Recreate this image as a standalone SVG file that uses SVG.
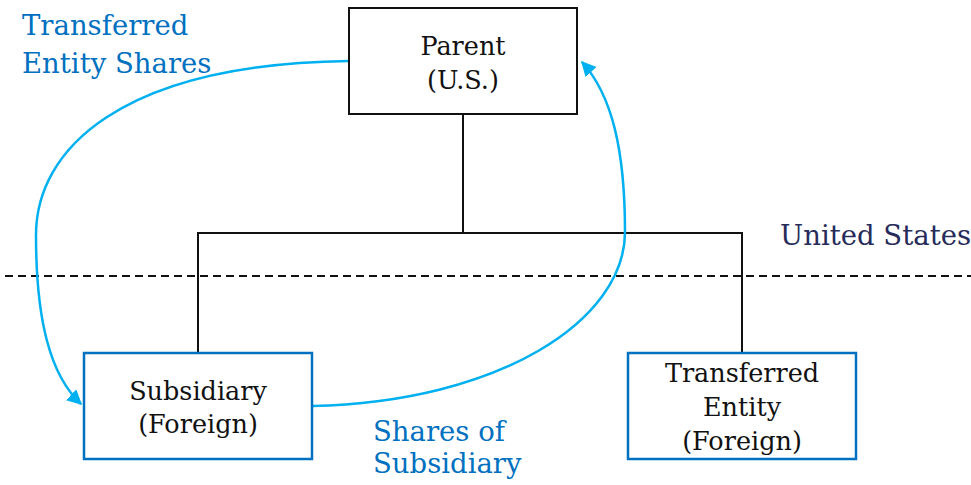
<svg xmlns="http://www.w3.org/2000/svg" width="971" height="485" viewBox="0 0 971 485">
  <style>
    text { font-family: "DejaVu Serif", "Liberation Serif", serif; text-anchor: middle; }
    .node-text { font-size: 25.5px; fill: #111111; }
    .label { font-size: 27.5px; fill: #0070C0; text-anchor: start; }
    .region { font-size: 27.5px; fill: #262B5A; text-anchor: start; }
    .box-us { fill: #ffffff; stroke: #111111; stroke-width: 2; }
    .box-foreign { fill: #ffffff; stroke: #0070C0; stroke-width: 2.5; }
    .tree { fill: none; stroke: #111111; stroke-width: 2; }
    .flow { fill: none; stroke: #00B0F0; stroke-width: 2.5; marker-end: url(#arrow); }
    .border { stroke: #111111; stroke-width: 2; stroke-dasharray: 8 5; }
  </style>
  <defs>
    <marker id="arrow" viewBox="0 0 10 10" refX="9" refY="5" markerWidth="6" markerHeight="6" markerUnits="strokeWidth" orient="auto">
      <path d="M0,0 L10,5 L0,10 z" fill="#00B0F0"/>
    </marker>
  </defs>

  <rect width="971" height="485" fill="#ffffff"/>

  <!-- border between U.S. and foreign jurisdictions -->
  <line class="border" x1="5" y1="276" x2="971" y2="276"/>
  <text class="region" x="780" y="245">United States</text>

  <!-- ownership tree and share transfers -->
  <g id="connectors">
    <path class="tree" d="M463,114 V233 M198,353 V233 H742 V353"/>
    <path class="flow" d="M349,61 C120,64 36,150 36,235 C36,320 50,375 81,404"/>
    <path class="flow" d="M312,406 C500,402 625,320 625,232 C625,150 612,95 582,62"/>
  </g>

  <g id="parent">
    <rect class="box-us" x="349" y="8" width="228" height="106"/>
    <text class="node-text" x="463" y="55">Parent</text>
    <text class="node-text" x="463" y="89">(U.S.)</text>
  </g>

  <g id="subsidiary">
    <rect class="box-foreign" x="84" y="353" width="228" height="106"/>
    <text class="node-text" x="198" y="400">Subsidiary</text>
    <text class="node-text" x="198" y="433">(Foreign)</text>
  </g>

  <g id="transferred-entity">
    <rect class="box-foreign" x="628" y="353" width="228" height="106"/>
    <text class="node-text" x="742" y="382">Transferred</text>
    <text class="node-text" x="742" y="416">Entity</text>
    <text class="node-text" x="742" y="450">(Foreign)</text>
  </g>

  <g id="labels">
    <text class="label" x="22" y="35">Transferred</text>
    <text class="label" x="22" y="73">Entity Shares</text>
    <text class="label" x="373" y="441">Shares of</text>
    <text class="label" x="373" y="473">Subsidiary</text>
  </g>
</svg>
